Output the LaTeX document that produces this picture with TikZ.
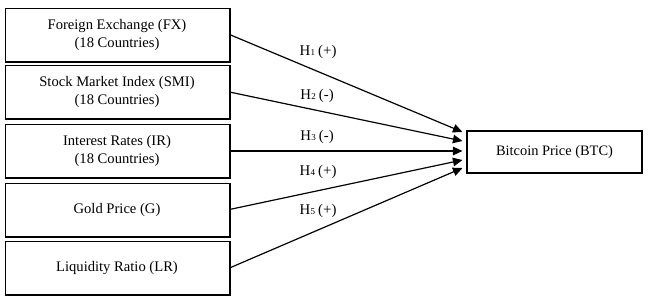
\documentclass[tikz,border=0pt]{standalone}
\usepackage{fontspec}
\setmainfont{Liberation Serif}
\usetikzlibrary{arrows.meta,calc}
\begin{document}
\begin{tikzpicture}[x=1pt,y=-1pt,
  varbox/.style={draw,line width=0.9pt,minimum width=224pt,minimum height=53pt,align=center,inner sep=0pt,font=\fontsize{14.6}{18}\selectfont},
  btcbox/.style={draw,line width=1.1pt,minimum width=175pt,minimum height=42pt,inner sep=0pt,font=\fontsize{14.4}{18}\selectfont},
  hyparrow/.style={line width=1.2pt,-{Triangle[length=9.5pt,width=8.5pt]}},
  hlabel/.style={font=\fontsize{14.8}{18}\selectfont,inner sep=0pt}]
\useasboundingbox (0,0) rectangle (650,300);
\node[varbox] (fx) at (117,34.5) {Foreign Exchange (FX)\\(18 Countries)};
\node[varbox] (smi) at (117,92) {Stock Market Index (SMI)\\(18 Countries)};
\node[varbox] (ir) at (117,151) {Interest Rates (IR)\\(18 Countries)};
\node[varbox] (g) at (117,209.5) {Gold Price (G)};
\node[varbox] (lr) at (117,268) {Liquidity Ratio (LR)};
\foreach \n in {fx,smi,ir,g,lr}{
  \draw[line width=1.6pt] ([xshift=0.4pt,yshift=-0.4pt]\n.south west) -- ([xshift=0.4pt,yshift=-0.4pt]\n.south east) -- ([xshift=0.4pt,yshift=-0.4pt]\n.north east);
}
\node[btcbox] (btc) at (554.5,152) {Bitcoin Price (BTC)};
\coordinate (e1) at ($(btc.west)+(-4,-20)$);
\coordinate (e2) at ($(btc.west)+(-4,-11)$);
\coordinate (e3) at ($(btc.west)+(-4,-1)$);
\coordinate (e4) at ($(btc.west)+(-4,8)$);
\coordinate (e5) at ($(btc.west)+(-4,16)$);
\draw[hyparrow] (fx.east) -- (e1);
\draw[hyparrow] (smi.east) -- (e2);
\draw[hyparrow] (ir.east) -- (e3);
\draw[hyparrow] (g.east) -- (e4);
\draw[hyparrow] (lr.east) -- (e5);
\node[hlabel] (h1) at (318,52) {H\kern0.5pt{\fontsize{9}{10}\selectfont 1}\kern3pt(+)};
\node[hlabel] (h2) at (317,96) {H\kern0.5pt{\fontsize{9}{10}\selectfont 2}\kern3pt(-)};
\node[hlabel] (h3) at (317,137) {H\kern0.5pt{\fontsize{9}{10}\selectfont 3}\kern3pt(-)};
\node[hlabel] (h4) at (318,172) {H\kern0.5pt{\fontsize{9}{10}\selectfont 4}\kern3pt(+)};
\node[hlabel] (h5) at (318,211) {H\kern0.5pt{\fontsize{9}{10}\selectfont 5}\kern3pt(+)};
\end{tikzpicture}
\end{document}
